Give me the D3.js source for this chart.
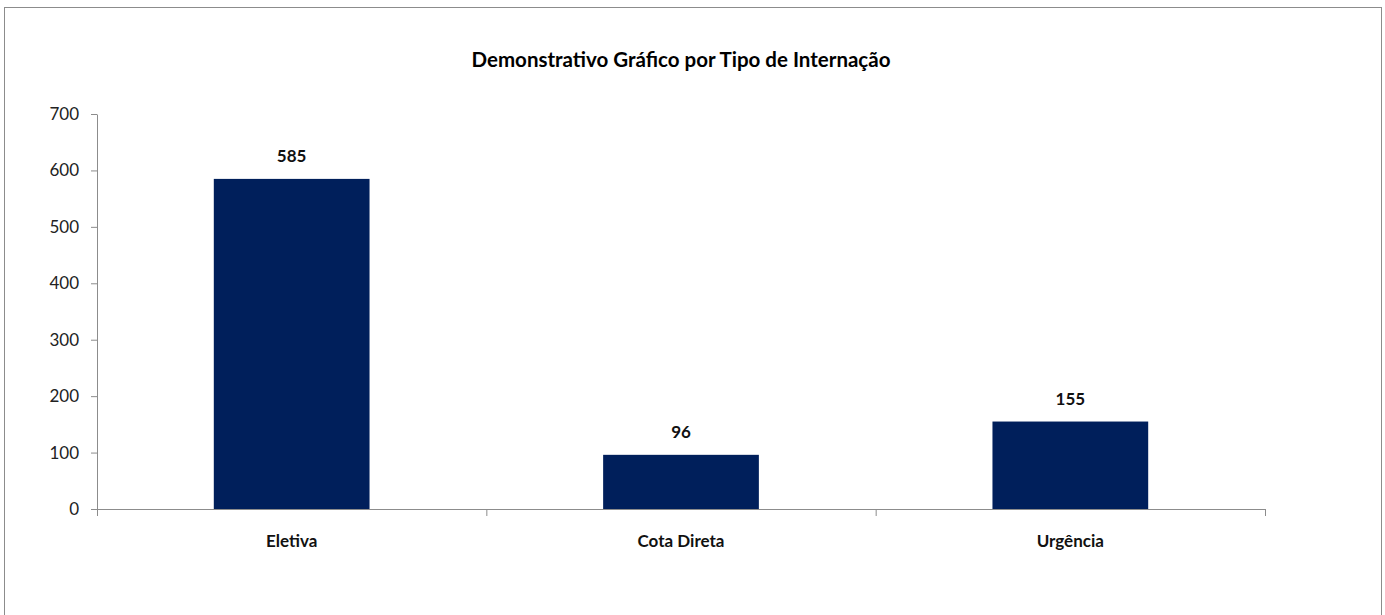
<!DOCTYPE html>
<html>
<head>
<meta charset="utf-8">
<script src="https://cdn.jsdelivr.net/npm/d3@7"></script>
<style>
  body { margin: 0; background: #fff; }
  svg { display: block; font-family: Lato, "Open Sans", sans-serif; }
</style>
</head>
<body>
<svg id="chart" width="1385" height="615"></svg>
<script>
// dados do gráfico
const categorias = ["Eletiva", "Cota Direta", "Urgência"];
const valores = [585, 96, 155];
const yTicks = [0, 100, 200, 300, 400, 500, 600, 700];
const titulo = "Demonstrativo Gráfico por Tipo de Internação";

const svg = d3.select("#chart");

// moldura externa
svg.append("rect").attr("x", 4.5).attr("y", 7.5).attr("width", 1377).attr("height", 620)
  .attr("fill", "#fff").attr("stroke", "#8c8c8c").attr("stroke-width", 1);

const margin = { top: 114, left: 97, right: 120, bottom: 106 };
const width = 1265 - margin.left;
const height = 509 - margin.top;

const g = svg.append("g").attr("transform", `translate(${margin.left},${margin.top})`);

const x = d3.scaleBand().domain(categorias).range([0, width]).paddingInner(0).paddingOuter(0);
const y = d3.scaleLinear().domain([0, 700]).range([height, 0]);
const barW = x.bandwidth() * 0.4;

// título
svg.append("text").attr("x", 681).attr("y", 67).attr("text-anchor", "middle")
  .attr("font-size", "20.5px").attr("font-weight", "bold").attr("fill", "#000")
  .text(titulo);

// eixo y
const yAxis = g.append("g").call(d3.axisLeft(y).tickValues(yTicks).tickSizeInner(6).tickSizeOuter(0).tickPadding(12));
yAxis.select(".domain").attr("stroke", "#8c8c8c");
yAxis.selectAll(".tick line").attr("stroke", "#8c8c8c");
yAxis.selectAll("text").attr("font-size", "17px").attr("fill", "#222").attr("font-family", "Lato, sans-serif");

// eixo x: marcas nas divisas das categorias
const xAxis = g.append("g").attr("transform", `translate(0,${height})`);
xAxis.append("line").attr("x1", 0).attr("x2", width).attr("y1", 0.5).attr("y2", 0.5).attr("stroke", "#8c8c8c");
xAxis.selectAll(".divisa").data(d3.range(categorias.length + 1)).join("line")
  .attr("class", "divisa")
  .attr("x1", i => i < categorias.length ? x(categorias[i]) + 0.5 : width + 0.5)
  .attr("x2", i => i < categorias.length ? x(categorias[i]) + 0.5 : width + 0.5)
  .attr("y1", 0).attr("y2", 7).attr("stroke", "#8c8c8c");
xAxis.selectAll(".rotulo").data(categorias).join("text")
  .attr("class", "rotulo")
  .attr("x", d => x(d) + x.bandwidth() / 2).attr("y", 38)
  .attr("text-anchor", "middle").attr("font-size", "17px").attr("font-weight", "bold").attr("fill", "#111")
  .text(d => d);

// barras
const dados = categorias.map((c, i) => ({ cat: c, val: valores[i] }));
g.selectAll(".barra").data(dados).join("rect")
  .attr("class", "barra")
  .attr("x", d => x(d.cat) + (x.bandwidth() - barW) / 2)
  .attr("y", d => y(d.val))
  .attr("width", barW)
  .attr("height", d => height - y(d.val))
  .attr("fill", "#001f5b");

// rótulos de valor
g.selectAll(".valor").data(dados).join("text")
  .attr("class", "valor")
  .attr("x", d => x(d.cat) + x.bandwidth() / 2)
  .attr("y", d => y(d.val) - 17)
  .attr("text-anchor", "middle").attr("font-size", "17px").attr("font-weight", "bold").attr("fill", "#111")
  .text(d => d.val);
</script>
</body>
</html>
